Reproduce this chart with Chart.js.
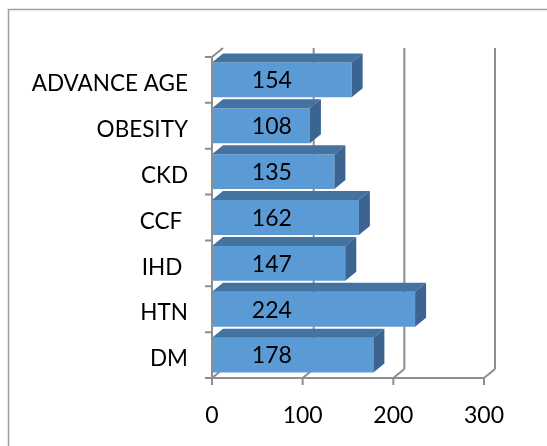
<!DOCTYPE html>
<html>
<head>
<meta charset="utf-8">
<script src="https://cdn.jsdelivr.net/npm/chart.js@4.4.1/dist/chart.umd.min.js"></script>
<style>
  html, body { margin: 0; padding: 0; background: #fff; }
  canvas { display: block; }
</style>
</head>
<body>
<canvas id="riskChart" width="547" height="446"></canvas>
<script>
// data
var riskFactors = ['ADVANCE AGE', 'OBESITY', 'CKD', 'CCF ', 'IHD ', 'HTN', 'DM'];
var patientCount = [154, 108, 135, 162, 147, 224, 178];
var xTickValues = [0, 100, 200, 300];

// 3d look
var DX = 11, DY = -9;
var LINE = '#8e8e8e';
var FRONT = '#5b9bd5', TOP = '#44739f', SIDE = '#3b6590';
var LABEL_AT = 66; // value labels sit at this x value, like the excel picture

Chart.defaults.font.family = 'Lato';
Chart.defaults.font.size = 23;
Chart.defaults.color = '#000';

var fake3d = {
    id: 'fake3d',
    beforeDraw: function(chart){
        var ctx = chart.ctx;
        ctx.save();
        ctx.fillStyle = '#fff';
        ctx.fillRect(0, 0, chart.width, chart.height);
        // outer frame, only left and top show
        ctx.strokeStyle = '#a0a0a0';
        ctx.lineWidth = 1.5;
        ctx.beginPath();
        ctx.moveTo(8.5, chart.height);
        ctx.lineTo(8.5, 9.5);
        ctx.lineTo(chart.width, 9.5);
        ctx.stroke();
        ctx.restore();
    },
    beforeDatasetsDraw: function(chart){
        var ctx = chart.ctx, a = chart.chartArea, xs = chart.scales.x;
        ctx.save();
        ctx.strokeStyle = LINE;
        ctx.lineWidth = 2;
        ctx.beginPath();
        for(let i=0;i<xTickValues.length;i++){
            let px = xs.getPixelForValue(xTickValues[i]);
            if(i>0){
                ctx.moveTo(px + DX, a.top + DY);
                ctx.lineTo(px + DX, a.bottom + DY);
            }
            ctx.moveTo(px, a.bottom);
            ctx.lineTo(px + DX, a.bottom + DY);
        }
        // top edge of side wall
        ctx.moveTo(a.left, a.top);
        ctx.lineTo(a.left + DX, a.top + DY);
        ctx.stroke();
        ctx.restore();
    },
    afterDatasetsDraw: function(chart){
        var ctx = chart.ctx, a = chart.chartArea, xs = chart.scales.x;
        var bars = chart.getDatasetMeta(0).data;
        ctx.save();

        for(let i=0;i<bars.length;i++){
            let b = bars[i];
            let t = b.y - b.height/2, btm = b.y + b.height/2;
            // top face
            ctx.fillStyle = TOP;
            ctx.beginPath();
            ctx.moveTo(b.base, t);
            ctx.lineTo(b.x, t);
            ctx.lineTo(b.x + DX, t + DY);
            ctx.lineTo(b.base + DX, t + DY);
            ctx.closePath();
            ctx.fill();
            // side face
            ctx.fillStyle = SIDE;
            ctx.beginPath();
            ctx.moveTo(b.x, t);
            ctx.lineTo(b.x + DX, t + DY);
            ctx.lineTo(b.x + DX, btm + DY);
            ctx.lineTo(b.x, btm);
            ctx.closePath();
            ctx.fill();
        }

        // front axes and ticks
        ctx.strokeStyle = LINE;
        ctx.lineWidth = 2;
        ctx.beginPath();
        ctx.moveTo(a.left, a.top);
        ctx.lineTo(a.left, a.bottom);
        ctx.lineTo(a.right, a.bottom);
        for(let i=0;i<xTickValues.length;i++){
            let px = xs.getPixelForValue(xTickValues[i]);
            ctx.moveTo(px, a.bottom);
            ctx.lineTo(px, a.bottom + 7);
        }
        let n = riskFactors.length;
        for(let i=0;i<=n;i++){
            let y = a.top + i*(a.bottom - a.top)/n;
            ctx.moveTo(a.left - 7, y);
            ctx.lineTo(a.left, y);
        }
        ctx.stroke();

        // value labels
        ctx.fillStyle = '#000';
        ctx.font = '23px Lato';
        ctx.textAlign = 'center';
        ctx.textBaseline = 'middle';
        let lx = xs.getPixelForValue(LABEL_AT);
        for(let i=0;i<bars.length;i++){
            ctx.fillText(String(patientCount[i]), lx, bars[i].y + 1);
        }
        ctx.restore();
    }
};

var canvas = document.getElementById('riskChart').getContext('2d');
var myChart = new Chart(canvas, {
    type: 'bar',
    data: {
        labels: riskFactors,
        datasets: [{
            data: patientCount,
            backgroundColor: FRONT,
            borderWidth: 0,
            barPercentage: 0.76,
            categoryPercentage: 1
        }]
    },
    options: {
        indexAxis: 'y',
        responsive: false,
        animation: false,
        devicePixelRatio: 1,
        layout: { padding: { top: 57, right: 63, bottom: 0, left: 0 } },
        plugins: {
            legend: { display: false },
            tooltip: { enabled: false }
        },
        scales: {
            x: {
                min: 0,
                max: 300,
                afterBuildTicks: function(scale){
                    scale.ticks = xTickValues.map(function(v){ return { value: v }; });
                },
                afterFit: function(scale){ scale.height = 68; },
                grid: { display: false, drawTicks: false },
                border: { display: false },
                ticks: { padding: 24, maxRotation: 0 }
            },
            y: {
                afterFit: function(scale){ scale.width = 212; },
                grid: { display: false, drawTicks: false },
                border: { display: false },
                ticks: { padding: 24, labelOffset: 4, autoSkip: false, font: { size: 22.5 } }
            }
        }
    },
    plugins: [fake3d]
});
</script>
</body>
</html>
